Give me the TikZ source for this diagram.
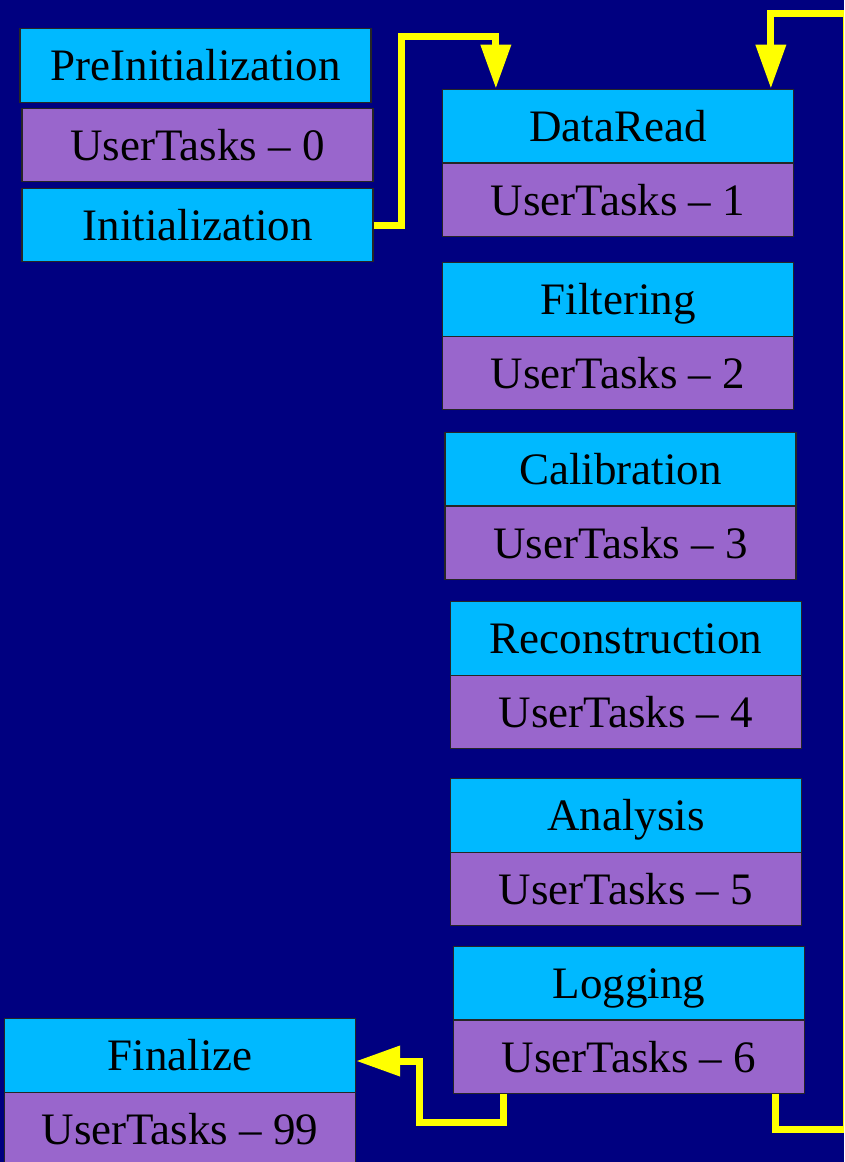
\documentclass[tikz,border=0pt]{standalone}
\usepackage{fontspec}
\setmainfont{Liberation Serif}
\usetikzlibrary{arrows.meta}
\definecolor{bgnavy}{RGB}{0,0,128}
\definecolor{boxcyan}{RGB}{0,185,255}
\definecolor{boxpurple}{RGB}{153,102,204}
\definecolor{flowyellow}{RGB}{255,255,0}
\tikzset{
  stage/.style={draw=black!85, line width=1.3pt, fill=boxcyan, minimum width=351pt, minimum height=73.5pt,
    inner sep=0pt, text height=30pt, text depth=0pt, font=\fontsize{45}{54}\selectfont},
  tasks/.style={stage, fill=boxpurple},
  flow/.style={draw=flowyellow, line width=7pt, -{Triangle[length=44pt,width=29pt]}}
}
\begin{document}
\begin{tikzpicture}[x=1pt,y=-1pt]
\fill[bgnavy] (0,0) rectangle (844,1162);
\useasboundingbox (0,0) rectangle (844,1162);
\clip (0,0) rectangle (844,1162);
% left column
\node[stage] (PreInit) at (195.5,65.5) {PreInitialization};
\node[tasks] (UT0) at (197.5,145) {UserTasks -- 0};
\node[stage] (Init) at (197.5,225) {Initialization};
% main column
\node[stage] (DataRead) at (618,126) {DataRead};
\node[tasks] (UT1) at (618,200) {UserTasks -- 1};
\node[stage] (Filtering) at (618,299.5) {Filtering};
\node[tasks] (UT2) at (618,373) {UserTasks -- 2};
\node[stage] (Calibration) at (620.5,469) {Calibration};
\node[tasks] (UT3) at (620.5,543) {UserTasks -- 3};
\node[stage] (Reconstruction) at (626,638.5) {Reconstruction};
\node[tasks] (UT4) at (626,712) {UserTasks -- 4};
\node[stage] (Analysis) at (626,815.5) {Analysis};
\node[tasks] (UT5) at (626,889) {UserTasks -- 5};
\node[stage] (Logging) at (629,983) {Logging};
\node[tasks] (UT6) at (629,1057) {UserTasks -- 6};
% finalize
\node[stage] (Finalize) at (180,1055.5) {Finalize};
\node[tasks] (UT99) at (180,1129) {UserTasks -- 99};
% connectors
\coordinate (a1) at (401,36);
\draw[flow] (Init.east) -| (a1) -| ([xshift=54pt]DataRead.north west);
\coordinate (r1) at (846.5,1129);
\coordinate (r2) at (846.5,13);
\draw[flow] ([xshift=323pt]UT6.south west) |- (r1) -- (r2) -| ([xshift=329pt]DataRead.north west);
\coordinate (c2) at (419,1122);
\coordinate (c3) at (419,1061);
\draw[flow] ([xshift=51pt]UT6.south west) |- (c2) |- (Finalize.east |- c3);
\end{tikzpicture}
\end{document}
